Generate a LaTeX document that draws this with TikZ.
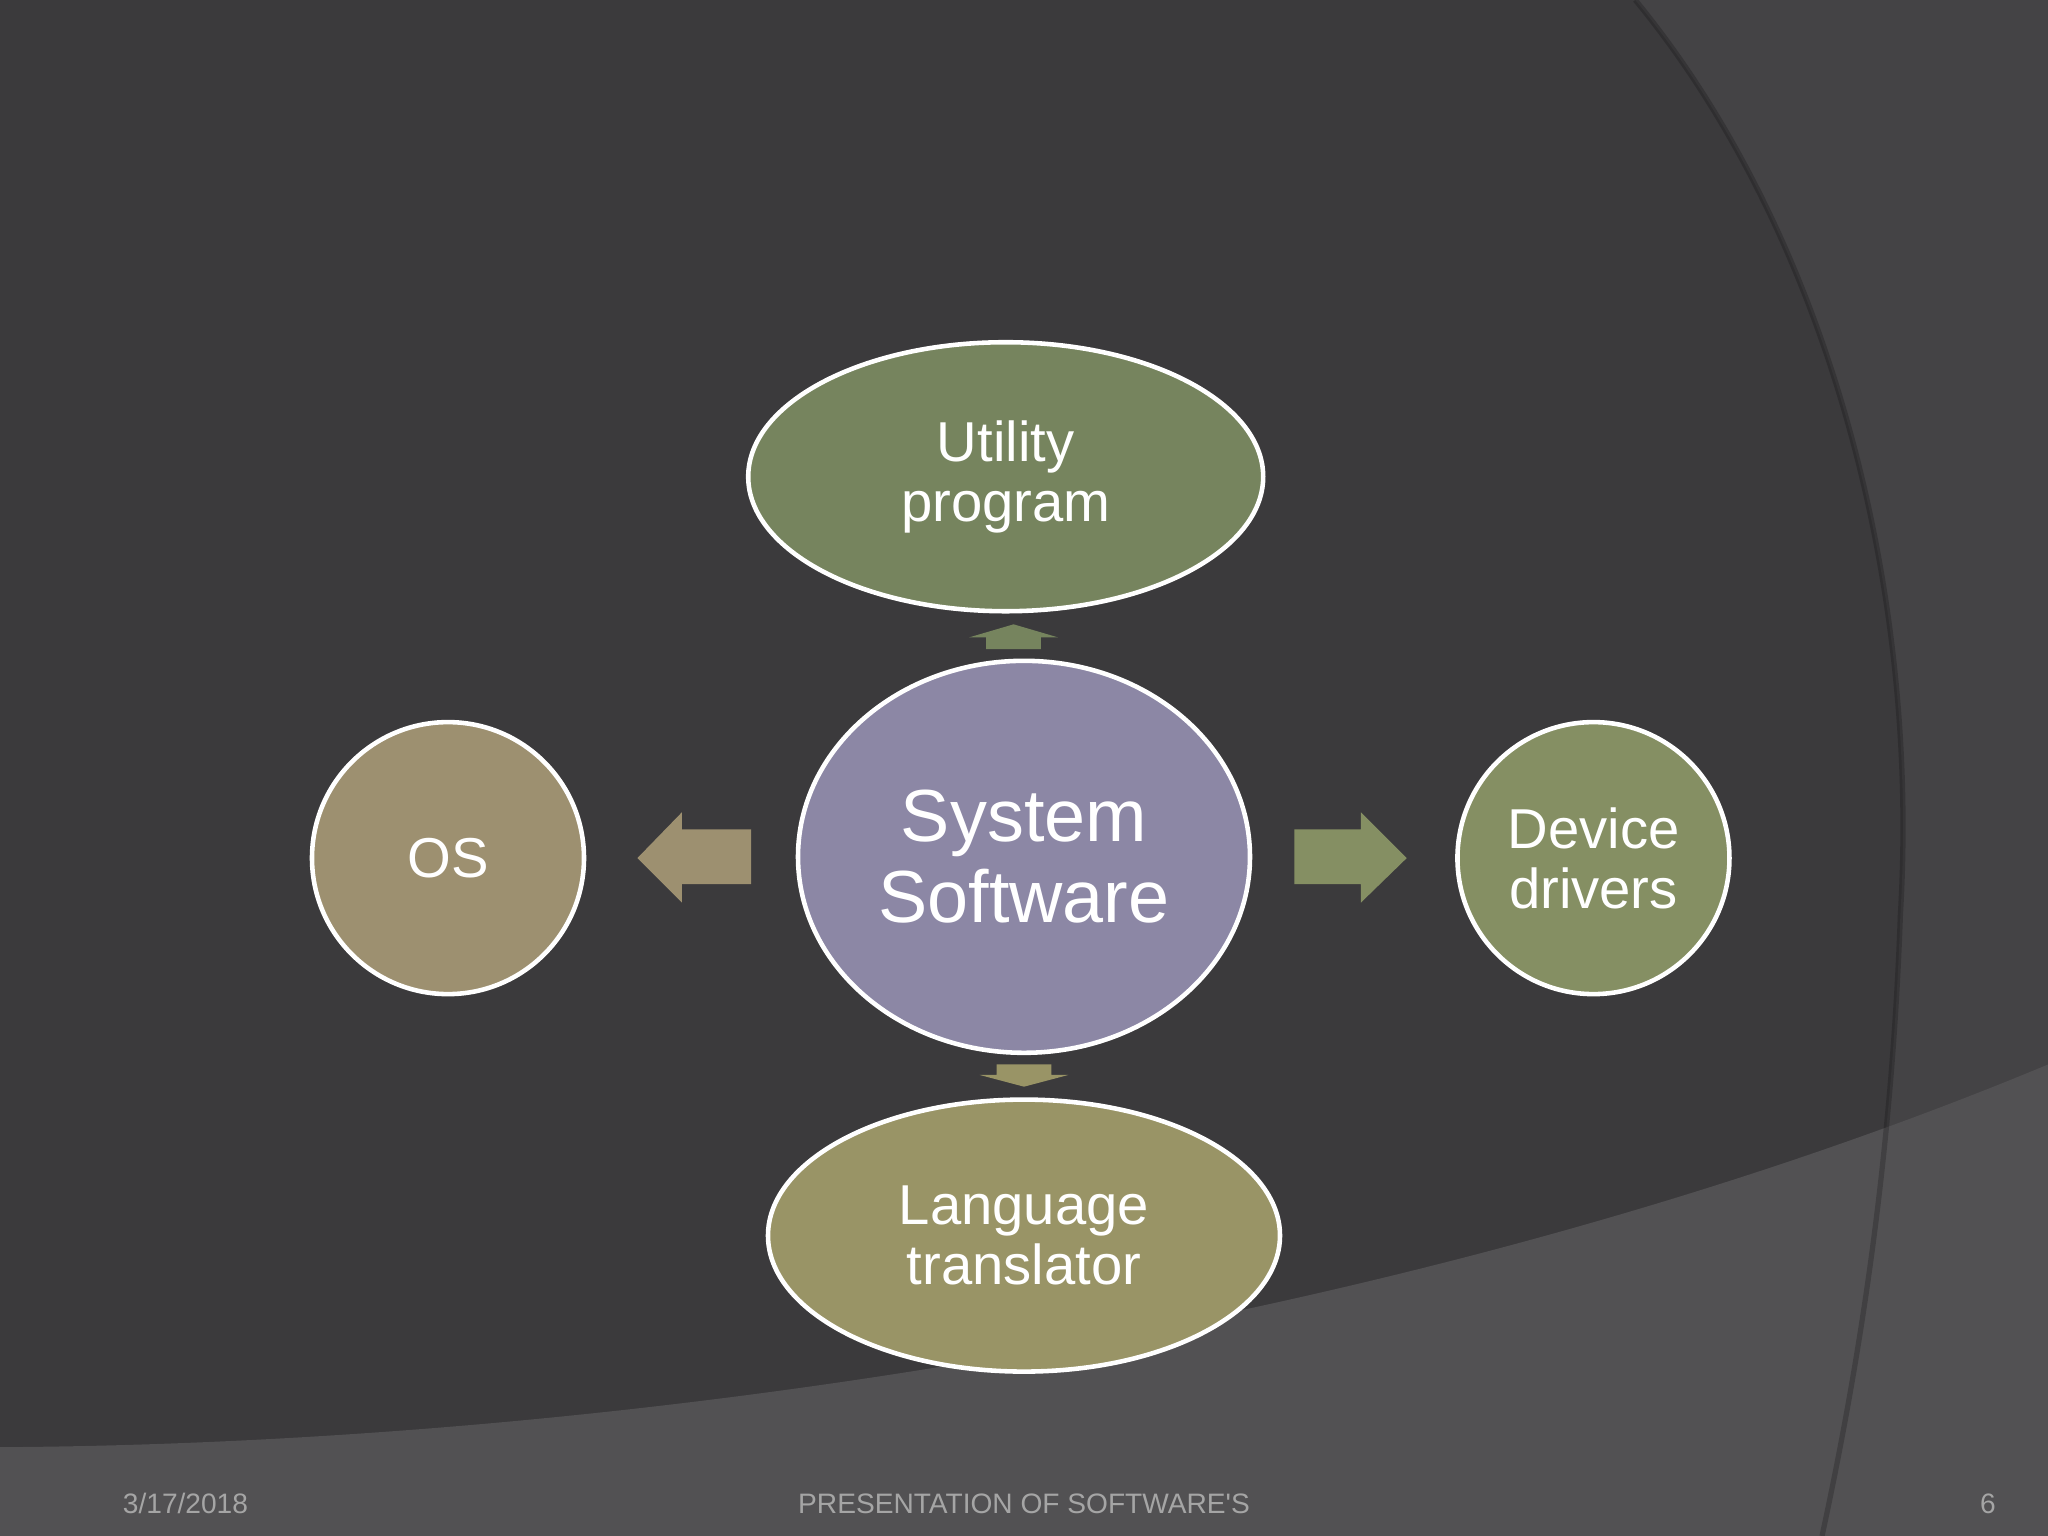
\documentclass[tikz,border=0pt]{standalone}
\usepackage{fontspec}
\setmainfont{Liberation Sans}
\usetikzlibrary{shapes.geometric}
\definecolor{bg}{HTML}{3B3A3C}
\definecolor{bgr}{HTML}{444345}
\definecolor{bgb}{HTML}{525153}
\definecolor{cutil}{HTML}{76845E}
\definecolor{csys}{HTML}{8C87A5}
\definecolor{cos}{HTML}{9D9070}
\definecolor{cdev}{HTML}{858F63}
\definecolor{clang}{HTML}{999466}
\definecolor{foot}{HTML}{A5A5A5}
\tikzset{
  bub/.style={ellipse, draw=white, line width=1.3pt, text=white, align=center, inner sep=0pt, font=\fontsize{16}{17}\selectfont},
  blk/.style={draw=none}
}
\begin{document}
\begin{tikzpicture}[x=0.013061cm,y=-0.013061cm]
\useasboundingbox (0,0) rectangle (1568,1176);
\fill[bg] (0,0) rectangle (1568,1176);
\fill[bgr] (1252,0) .. controls (1400,180) and (1470,450) .. (1455,700) .. controls (1448,900) and (1420,1060) .. (1395,1176) -- (1568,1176) -- (1568,0) -- cycle;
\fill[bgb] (0,1108) .. controls (500,1105) and (1100,1010) .. (1568,815) -- (1568,1176) -- (0,1176) -- cycle;
\draw[black,opacity=0.2,line width=1.5pt] (1252,0) .. controls (1400,180) and (1470,450) .. (1455,700) .. controls (1448,900) and (1420,1060) .. (1395,1176);

\node[bub, fill=cutil, minimum width=5.15cm, minimum height=2.69cm] (util) at (770,365) {Utility\\program};
\node[bub, fill=csys, minimum width=4.52cm, minimum height=3.92cm, font=\fontsize{21}{23}\selectfont] (sys) at (784,656) {System\\Software};
\node[bub, fill=cos, minimum width=2.72cm, minimum height=2.72cm] (os) at (343,657) {OS};
\node[bub, fill=cdev, minimum width=2.72cm, minimum height=2.72cm] (dev) at (1220,657) {Device\\drivers};
\node[bub, fill=clang, minimum width=5.12cm, minimum height=2.72cm] (lang) at (784,946) {Language\\translator};

% block arrows
\fill[cos] (575,635) -- (522,635) -- (522,622) -- (488,657) -- (522,691) -- (522,677) -- (575,677) -- cycle;
\fill[cdev] (991,635) -- (1042,635) -- (1042,622) -- (1077,657) -- (1042,691) -- (1042,677) -- (991,677) -- cycle;
\fill[cutil] (755,497) -- (755,488) -- (742,488) -- (776,478) -- (810,488) -- (797,488) -- (797,497) -- cycle;
\fill[clang] (763,815) -- (763,823) -- (750,823) -- (784,832) -- (818,823) -- (805,823) -- (805,815) -- cycle;

\node[text=foot, font=\fontsize{8}{9}\selectfont] (date) at (142,1151) {3/17/2018};
\node[text=foot, font=\fontsize{8}{9}\selectfont] (title) at (784,1151) {PRESENTATION OF SOFTWARE\textquotesingle S};
\node[text=foot, font=\fontsize{8}{9}\selectfont] (pg) at (1522,1151) {6};
\end{tikzpicture}
\end{document}
